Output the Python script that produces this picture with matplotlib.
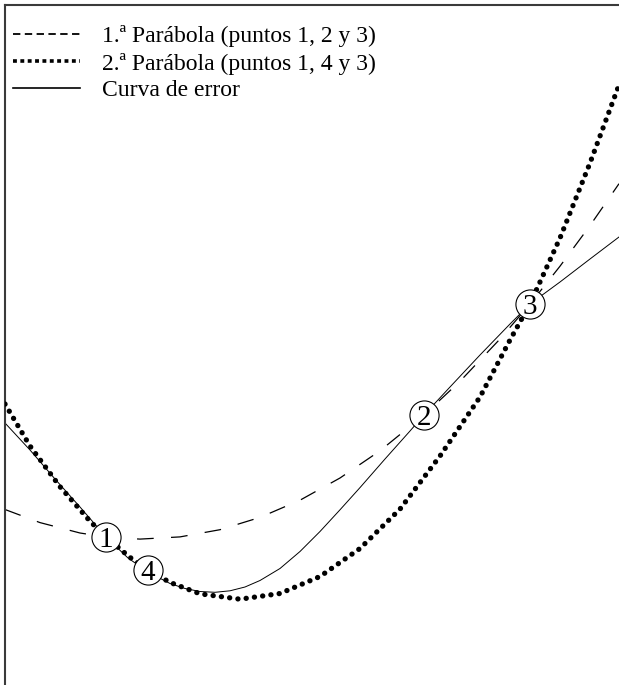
import matplotlib
matplotlib.use("Agg")
import matplotlib.pyplot as plt
from matplotlib.lines import Line2D

plt.rcParams['lines.scale_dashes'] = False

# ---- data (horizontal position, vertical position) ----
pt_labels = ["1", "4", "2", "3"]
pt_x = [101, 143, 419, 525]
pt_y = [148, 115, 270, 381]

par1_x = [0, 35, 75, 101, 135, 175, 215, 255, 295, 335, 375, 419, 455, 495, 525, 555, 585, 614]
par1_y = [175.5, 162.4, 152, 148, 145.9, 148.1, 155.3, 167.6, 184.8, 207, 234.2, 270, 303.7, 346, 381, 418.8, 459.4, 501.3]

par2_x = [0, 25, 55, 85, 101, 125, 143, 165, 195, 235, 275, 315, 355, 395, 435, 475, 505, 525, 555, 585, 614]
par2_y = [281, 239, 198.3, 163.8, 148, 127.6, 115, 102.6, 91.2, 85.8, 91.5, 108.5, 136.5, 175.9, 229, 288, 345, 381, 447, 522, 600]

err_x = [0, 25, 50, 75, 101, 123, 143, 165, 180, 195, 210, 225, 240, 255, 275, 295, 315, 335, 355, 380, 405, 419, 445, 475, 505, 525, 555, 585, 614]
err_y = [262, 235, 206, 178, 148, 127, 113, 101.5, 96.5, 93.5, 92.7, 94.2, 98, 104.5, 116.5, 133.5, 153.5, 175.2, 197.4, 226, 254, 270, 298, 330, 361, 381, 403, 426, 448]

legend_labels = ["1.ª Parábola (puntos 1, 2 y 3)",
                 "2.ª Parábola (puntos 1, 4 y 3)",
                 "Curva de error"]

W, H = 619, 685
fig = plt.figure(figsize=(W / 100, H / 100), dpi=100)
ax = fig.add_axes([5 / W, 0, 614 / W, 680 / H])
ax.set_xlim(0, 614)
ax.set_ylim(0, 680)
ax.set_xticks([])
ax.set_yticks([])
for s in ['right', 'bottom']:
    ax.spines[s].set_visible(False)
for s in ['left', 'top']:
    ax.spines[s].set_color('#3a3a3a')
    ax.spines[s].set_linewidth(1.5)

ax.plot(par1_x, par1_y, color='black', lw=0.9, linestyle=(0, (12, 12.5)), zorder=2)
ax.plot(par2_x, par2_y, color='black', lw=3.8, linestyle=(0, (0.1, 5.9)),
        dash_capstyle='round', zorder=3)
ax.plot(err_x, err_y, color='black', lw=0.7, zorder=2)

ax.scatter(pt_x, pt_y, s=440, facecolor='white', edgecolor='black', linewidth=0.8, zorder=5)
for lab, x, y in zip(pt_labels, pt_x, pt_y):
    ax.text(x, y, lab, ha='center', va='center_baseline', fontsize=21,
            family='Liberation Serif', zorder=6)

handles = [
    Line2D([], [], color='black', lw=1.3, linestyle=(0, (5.3, 3.2))),
    Line2D([], [], color='black', lw=2.6, linestyle=(0, (2.8, 2.5)), dash_capstyle='butt'),
    Line2D([], [], color='black', lw=1.2),
]
ax.legend(handles, legend_labels, loc='upper left', bbox_to_anchor=(0.013, 0.970),
          frameon=False, borderaxespad=0, borderpad=0, handlelength=2.84,
          handletextpad=0.93, labelspacing=0.22,
          prop={'family': 'Liberation Serif', 'size': 17})

fig.savefig('out.png', dpi=100)
